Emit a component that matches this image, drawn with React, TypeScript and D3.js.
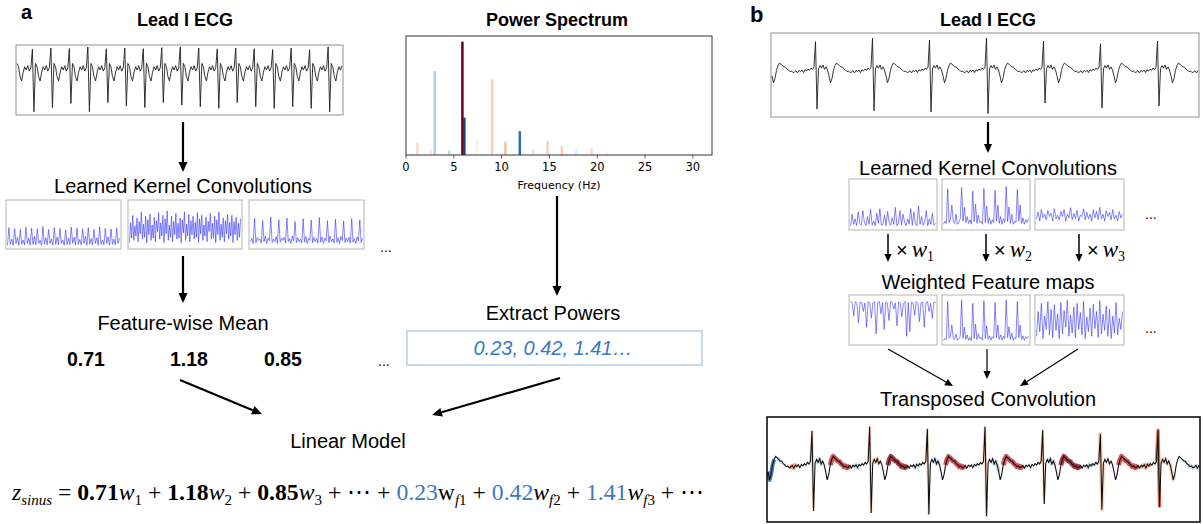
import React from "react"
import * as d3 from "d3"

// ---------- data ----------
// Lead I ECG (panel a): one beat shape, offsets -4..7 around the R peak
const ecgATemplate = [0.0, 0.2, -0.05, 0.1, 1.0, -1.9, 0.3, 0.15, -0.3, -0.5, -0.1, 0.15]
const ecgAPre = 4
const ecgARPeaks = [10, 22, 34, 46, 58, 70, 82, 94, 106, 118, 130, 142, 154, 166, 178, 190, 202]
const ecgARAmp = [0.95, 1.0, 0.98, 1.05, 0.97, 1.0, 0.97, 1.02, 1.05, 1.0, 0.96, 1.0, 0.97, 0.93, 1.0, 0.92, 1.05]
const ecgASAmp = [1.0, 0.9, 0.8, 1.0, 0.78, 0.86, 0.9, 0.78, 0.84, 0.88, 0.92, 0.78, 0.88, 0.92, 0.88, 0.92, 1.0]
const ecgALength = 212

// Lead I ECG (panel b): one beat shape, offsets -14..23 around the R peak
const ecgBTemplate = [
  0.0, 0.04, -0.03, 0.05, 0.01, 0.06, -0.02, 0.07, 0.03, 0.09, 0.05, 0.12, 0.08, 0.15,
  1.0, -1.25,
  0.1, 0.2, 0.12, 0.22, 0.08, 0.16, 0.06, -0.12, -0.34, -0.2, 0.05, 0.2, 0.28, 0.24, 0.2, 0.16, 0.15,
  0.09, 0.06, 0.01, 0.03, -0.02,
]
const ecgBPre = 14
const ecgBRPeaks = [29, 67, 105, 143, 181, 219, 257]
const ecgBRAmp = [0.95, 1.06, 1.0, 1.06, 0.97, 0.88, 0.97]
const ecgBSAmp = [0.93, 0.97, 1.0, 1.04, 0.78, 0.9, 0.85]
const ecgBLength = 285

// transposed convolution highlights: [start sample, end sample, colour key]
const bHighlights: [number, number, string][] = [
  [0, 4, "blue"], [6, 10, "lightblue"], [14, 19, "orange"], [28, 30, "spike"], [32, 36, "lightblue"],
  [41, 54, "red"], [56, 60, "lightblue"], [66, 68, "spike"], [69, 73, "peach"], [79, 92, "darkred"],
  [96, 100, "lightblue"], [104, 106, "spike"], [109, 113, "lightblue"], [117, 130, "red"],
  [142, 144, "spike"], [148, 152, "lightblue"], [155, 168, "red"], [180, 182, "spike"],
  [185, 189, "lightblue"], [193, 206, "darkred"], [210, 214, "lightblue"], [217, 221, "peach"],
  [231, 244, "red"], [246, 252, "orange"], [256, 258, "strong"], [259, 268, "peach"], [274, 284, "lightblue"],
]
const highlightColors: Record<string, string> = {
  red: "#c8323a", darkred: "#a11222", orange: "#f29a78", strong: "#e0603a",
  peach: "#fbd3bd", spike: "#fbd8c4", lightblue: "#c4ddef", blue: "#2a63a8",
}
const highlightWidths: Record<string, number> = {
  red: 5, darkred: 5, orange: 4, strong: 3.5, peach: 4, spike: 3, lightblue: 4, blue: 4,
}

// learned kernel convolutions (percent of panel height)
const convA1 = [4,44,6,18,4,42,8,22,4,40,6,16,5,45,8,20,4,43,6,24,5,41,8,15,4,46,6,21,5,40,8,18,4,44,6,23,5,42,8,16,4,39,6,20,5,45,8,22,4,43,6,17,5,41,8,24,4,44,6,19,5,40,8,21,4,46,6,16,5,42,8,23,4,41,6,18,5,43,8,20]
const convA2 = [10,55,20,72,15,48,25,66,12,58,30,80,18,52,22,70,10,62,28,75,15,50,20,68,12,60,35,78,18,55,25,72,10,64,30,82,15,50,22,70,12,58,28,76,18,54,20,66,10,62,32,80,15,52,25,74,12,60,28,70,18,56,22,78,10,64,30,72,15,50,25,68,12,58,35,76,18,54,20,70,10,62,28,80,15,52,22,66,12,60,30,74,18,56,25,72,10,58,28,68,15,54,22,64]
const convA3 = [12,20,8,65,10,22,15,18,9,60,12,25,8,20,14,68,10,18,12,24,8,62,11,20,15,22,9,66,12,19,8,25,14,58,10,21,12,18,9,64,11,24,8,20,15,61,10,22,12,19,9,67,11,23,8,20,14,60,10,25,12,18,9,63,11,21,8,24,15,59,10,20,12,22,9,65,11,19,8,23,14,62,10,20]
const convB1 = [5,30,8,20,5,35,10,6,38,12,5,25,8,40,6,15,5,32,10,42,6,8,28,5,36,12,6,22,8,45,5,10,38,6,30,12,5,20,8,42,6,35,10,5,48,8,25,6,12,38,5,20,8,32,6,10]
const convB2 = [8,15,10,85,12,20,50,15,10,30,8,12,20,88,15,45,12,25,10,18,8,80,14,52,10,28,12,15,8,86,12,48,10,22,8,18,12,82,15,50,10,25,8,20,12,90,14,46,10,30,8,15,12,84,15,50,10,22,8,18,12,20]
const convB3 = [20,35,15,40,22,30,18,38,25,32,15,42,20,28,18,36,25,40,15,30,22,44,18,32,20,38,15,28,25,42,18,34,20,30,15,40,22,36,18,45,20,30,15,38,25,34,18,40,20,28,15,36,22,30]
// weighted feature maps
const weightedB1 = [92,90,60,92,88,45,91,90,70,89,35,92,88,55,90,91,20,89,92,65,90,30,91,88,50,92,90,75,89,38,91,90,58,88,92,15,90,25,91,89,62,92,88,48,90,91,35,89,92,70,88,55,91,90]
const weightedB2 = [5,10,8,92,10,15,40,10,8,20,6,10,15,95,10,35,8,18,6,12,5,88,10,42,8,20,10,12,6,94,10,38,8,16,6,14,10,90,12,40,8,18,6,15,10,96,12,36,8,22,6,12,10,92,12,40,8,16,6,14,10,15]
const weightedB3 = [15,70,25,88,10,60,30,92,18,75,12,85,28,65,10,90,20,72,35,95,15,62,22,80,12,88,30,68,18,92,10,58,25,78,15,86,32,70,12,94,20,64,28,82,15,75,10,60,22,90,18,55,30,70]

// power spectrum bars
const specFreq = [0.7, 1.2, 2.6, 3.0, 4.5, 5.9, 6.1, 7.4, 9.0, 10.4, 11.9, 13.3, 14.8, 16.3, 17.8, 19.4, 21.0]
const specPower = [0.02, 0.11, 0.05, 0.74, 0.04, 1.0, 0.33, 0.14, 0.67, 0.12, 0.21, 0.05, 0.12, 0.08, 0.06, 0.06, 0.02]
const specColor = ["#e8f1f8", "#fbdccb", "#fde6da", "#a9d3ea", "#bcd9ee", "#67001f", "#1b3f7a", "#fdf0ea", "#f9cdb5", "#f7c1a0", "#2a6db5", "#fbe0d0", "#f9cfb8", "#f8d2bb", "#e3eef8", "#fbdac6", "#fde6da"]
const specTicks = [0, 5, 10, 15, 20, 25, 30]

// numbers
const featureMeans = ["0.71", "1.18", "0.85"]
const powerValues = ["0.23", "0.42", "1.41"]

// ---------- helpers ----------
function buildEcg(template: number[], pre: number, peaks: number[], rAmp: number[], sAmp: number[], length: number) {
  const period = template.length
  const out: number[] = []
  for (let t = 0; t < length; t++) {
    const k = d3.bisectRight(peaks, t + pre) - 1
    let offset = k < 0 ? t - (peaks[0] - period) : t - peaks[k]
    if (offset >= period - pre) offset -= period
    let v = template[offset + pre]
    const kk = Math.max(0, Math.min(peaks.length - 1, k))
    if (offset === 0) v *= rAmp[kk]
    if (offset === 1) v *= sAmp[kk]
    out.push(v)
  }
  return out
}

const sans = "Liberation Sans, Arial, Helvetica, sans-serif"
const serif = "Liberation Serif, DejaVu Serif, serif"

function Arrow({ x1, y1, x2, y2, w = 2, head = 9 }: { x1: number; y1: number; x2: number; y2: number; w?: number; head?: number }) {
  const a = Math.atan2(y2 - y1, x2 - x1)
  const bx = x2 - head * Math.cos(a)
  const by = y2 - head * Math.sin(a)
  const hw = head * 0.45
  const p = [
    [x2, y2],
    [bx + hw * Math.sin(a), by - hw * Math.cos(a)],
    [bx - hw * Math.sin(a), by + hw * Math.cos(a)],
  ]
  return (
    <g>
      <line x1={x1} y1={y1} x2={bx} y2={by} stroke="#000" strokeWidth={w} />
      <polygon points={p.map((d) => d.join(",")).join(" ")} fill="#000" />
    </g>
  )
}

function FeaturePanel({ x, y, w, h, values }: { x: number; y: number; w: number; h: number; values: number[] }) {
  const sx = d3.scaleLinear().domain([0, values.length - 1]).range([x + 1.5, x + w - 1.5])
  const sy = d3.scaleLinear().domain([0, 100]).range([y + h - 2, y + 3])
  const line = d3.line<number>().x((_, i) => sx(i)).y((d) => sy(d))
  return (
    <g>
      <rect x={x} y={y} width={w} height={h} fill="#fff" stroke="#b5b5b5" strokeWidth={1} />
      <path d={line(values) || ""} fill="none" stroke="#2a2aff" strokeOpacity={0.72} strokeWidth={0.8} />
    </g>
  )
}

function WLabel({ x, y, sub }: { x: number; y: number; sub: string }) {
  return (
    <text x={x} y={y} fontSize={20} style={{ whiteSpace: "pre" }}>
      <tspan fontFamily={sans}>×</tspan>
      <tspan fontFamily={serif} fontStyle="italic" fontSize={23} dx={4}>w</tspan>
      <tspan fontFamily={serif} fontSize={14} dy={4}>{sub}</tspan>
    </text>
  )
}

export default function App() {
  const ecgA = buildEcg(ecgATemplate, ecgAPre, ecgARPeaks, ecgARAmp, ecgASAmp, ecgALength)
  const ecgB = buildEcg(ecgBTemplate, ecgBPre, ecgBRPeaks, ecgBRAmp, ecgBSAmp, ecgBLength)

  const xA = d3.scaleLinear().domain([0, ecgALength - 1]).range([17, 342])
  const yA = d3.scaleLinear().domain([-2.05, 1.14]).range([115, 45])
  const lineA = d3.line<number>().x((_, i) => xA(i)).y((d) => yA(d))

  const xB = d3.scaleLinear().domain([0, ecgBLength - 1]).range([772, 1198])
  const yB = d3.scaleLinear().domain([-1.41, 1.22]).range([117, 33])
  const lineB = d3.line<number>().x((_, i) => xB(i)).y((d) => yB(d))

  const xT = d3.scaleLinear().domain([0, ecgBLength - 1]).range([768, 1199])
  const yT = d3.scaleLinear().domain([-1.45, 1.32]).range([522, 417])
  const lineT = d3.line<[number, number]>().x((d) => xT(d[0])).y((d) => yT(d[1]))
  const ecgBPts: [number, number][] = ecgB.map((v, i) => [i, v])

  const xS = d3.scaleLinear().domain([0, 32]).range([406, 712])
  const yS = d3.scaleLinear().domain([0, 1.05]).range([155, 36])
  const barW = xS(0.26) - xS(0)

  return (
    <svg width={1203} height={524} style={{ position: "absolute", left: 0, top: 0, background: "#fff" }}>
      <rect width={1203} height={524} fill="#fff" />
      {/* ---------- panel a ---------- */}
      <text x={21} y={19} fontFamily={sans} fontWeight="bold" fontSize={20}>a</text>
      <text x={185} y={26} textAnchor="middle" fontFamily={sans} fontWeight="bold" fontSize={18}>Lead I ECG</text>
      <rect x={16} y={45} width={327} height={70} fill="none" stroke="#8f8f8f" strokeWidth={1} />
      <path d={lineA(ecgA) || ""} fill="none" stroke="#1e1e1e" strokeWidth={0.9} />
      <Arrow x1={183} y1={122} x2={183} y2={172} w={2.2} head={10} />
      <text x={183} y={193} textAnchor="middle" fontFamily={sans} fontSize={20}>Learned Kernel Convolutions</text>
      <FeaturePanel x={6} y={200} w={115} h={49} values={convA1} />
      <FeaturePanel x={128} y={200} w={114} h={49} values={convA2} />
      <FeaturePanel x={249} y={200} w={115} h={49} values={convA3} />
      <text x={380} y={252} fontFamily={sans} fontSize={14}>...</text>
      <Arrow x1={183} y1={256} x2={183} y2={303} w={2.2} head={10} />
      <text x={183} y={330} textAnchor="middle" fontFamily={sans} fontSize={20}>Feature-wise Mean</text>
      {featureMeans.map((v, i) => (
        <text key={v} x={[86, 189, 283][i]} y={366} textAnchor="middle" fontFamily={sans} fontWeight="bold" fontSize={19.5}>{v}</text>
      ))}
      <text x={378} y={366} fontFamily={sans} fontSize={14}>...</text>
      <Arrow x1={180} y1={380} x2={262} y2={414} w={2.2} head={10} />
      <Arrow x1={560} y1={378} x2={432} y2={415} w={2.2} head={10} />
      <text x={348} y={448} textAnchor="middle" fontFamily={sans} fontSize={20}>Linear Model</text>

      {/* power spectrum */}
      <text x={557} y={26} textAnchor="middle" fontFamily={sans} fontWeight="bold" fontSize={18}>Power Spectrum</text>
      {specFreq.map((f, i) => (
        <rect key={i} x={xS(f) - barW / 2} y={yS(specPower[i])} width={barW} height={yS(0) - yS(specPower[i])} fill={specColor[i]} />
      ))}
      <rect x={406} y={36} width={306} height={119} fill="none" stroke="#333" strokeWidth={1} />
      {specTicks.map((t) => (
        <g key={t}>
          <line x1={xS(t)} x2={xS(t)} y1={155} y2={158.5} stroke="#333" strokeWidth={0.8} />
          <text x={xS(t)} y={171} textAnchor="middle" fontFamily="DejaVu Sans, sans-serif" fontSize={11.5}>{t}</text>
        </g>
      ))}
      <text x={559} y={189} textAnchor="middle" fontFamily="DejaVu Sans, sans-serif" fontSize={11}>Frequency (Hz)</text>
      <Arrow x1={557} y1={196} x2={557} y2={296} w={2.2} head={10} />
      <text x={553} y={320} textAnchor="middle" fontFamily={sans} fontSize={20}>Extract Powers</text>
      <rect x={407} y={331} width={295} height={34} fill="#fff" stroke="#b9cce6" strokeWidth={1.5} />
      <text x={553} y={355} textAnchor="middle" fontFamily={sans} fontStyle="italic" fontSize={20} fill="#3a78c4">
        {powerValues.join(", ") + "…"}
      </text>

      {/* formula */}
      <text x={12} y={500} fontFamily={serif} fontSize={23.7} style={{ whiteSpace: "pre" }}>
        <tspan fontStyle="italic">z</tspan>
        <tspan fontStyle="italic" fontSize={15} dy={5}>sinus</tspan>
        <tspan dy={-5}> = </tspan>
        {featureMeans.map((v, i) => (
          <tspan key={"m" + i}>
            <tspan fontWeight="bold">{v}</tspan>
            <tspan fontStyle="italic">w</tspan>
            <tspan fontSize={15} dy={5}>{i + 1}</tspan>
            <tspan dy={-5}> + </tspan>
          </tspan>
        ))}
        <tspan>⋯ + </tspan>
        {powerValues.map((v, i) => (
          <tspan key={"p" + i}>
            <tspan fill="#3a78c4">{v}</tspan>
            <tspan fontStyle={i === 0 ? "normal" : "italic"}>w</tspan>
            <tspan fontSize={15} dy={5}><tspan fontStyle="italic">f</tspan>{i + 1}</tspan>
            <tspan dy={-5}> + </tspan>
          </tspan>
        ))}
        <tspan>⋯</tspan>
      </text>

      {/* ---------- panel b ---------- */}
      <text x={750} y={22} fontFamily={sans} fontWeight="bold" fontSize={22}>b</text>
      <text x={988} y={26} textAnchor="middle" fontFamily={sans} fontWeight="bold" fontSize={18}>Lead I ECG</text>
      <rect x={771} y={33} width={428} height={84} fill="none" stroke="#8f8f8f" strokeWidth={1} />
      <path d={lineB(ecgB) || ""} fill="none" stroke="#1e1e1e" strokeWidth={0.9} />
      <Arrow x1={988} y1={122} x2={988} y2={153} w={2.2} head={9} />
      <text x={988} y={175} textAnchor="middle" fontFamily={sans} fontSize={20}>Learned Kernel Convolutions</text>
      <FeaturePanel x={849} y={179} w={88} h={51} values={convB1} />
      <FeaturePanel x={942} y={179} w={88} h={51} values={convB2} />
      <FeaturePanel x={1035} y={179} w={89} h={51} values={convB3} />
      <text x={1145} y={219} fontFamily={sans} fontSize={14}>...</text>
      {[888, 986, 1079].map((x, i) => (
        <g key={x}>
          <Arrow x1={x} y1={234} x2={x} y2={262} w={1.5} head={8} />
          <WLabel x={x + 8} y={257} sub={String(i + 1)} />
        </g>
      ))}
      <text x={988} y={289} textAnchor="middle" fontFamily={sans} fontSize={20}>Weighted Feature maps</text>
      <FeaturePanel x={849} y={295} w={88} h={50} values={weightedB1} />
      <FeaturePanel x={942} y={295} w={88} h={50} values={weightedB2} />
      <FeaturePanel x={1035} y={295} w={89} h={50} values={weightedB3} />
      <text x={1145} y={333} fontFamily={sans} fontSize={14}>...</text>
      <Arrow x1={888} y1={349} x2={953} y2={386} w={1.2} head={8} />
      <Arrow x1={987} y1={349} x2={987} y2={379} w={1.2} head={8} />
      <Arrow x1={1078} y1={349} x2={1020} y2={386} w={1.2} head={8} />
      <text x={988} y={406} textAnchor="middle" fontFamily={sans} fontSize={20}>Transposed Convolution</text>

      <defs>
        <clipPath id="tclip">
          <rect x={767} y={417} width={433} height={105} />
        </clipPath>
      </defs>
      <g clipPath="url(#tclip)">
        {bHighlights.map(([s, e, c], i) => (
          <path key={i} d={lineT(ecgBPts.slice(s, e + 1)) || ""} fill="none" stroke={highlightColors[c]}
            strokeWidth={highlightWidths[c]} strokeOpacity={0.85} strokeLinecap="butt" strokeLinejoin="round" />
        ))}
        <path d={lineT(ecgBPts) || ""} fill="none" stroke="#111" strokeWidth={1.1} />
      </g>
      <rect x={767} y={417} width={433} height={105} fill="none" stroke="#000" strokeWidth={1.5} />
    </svg>
  )
}
